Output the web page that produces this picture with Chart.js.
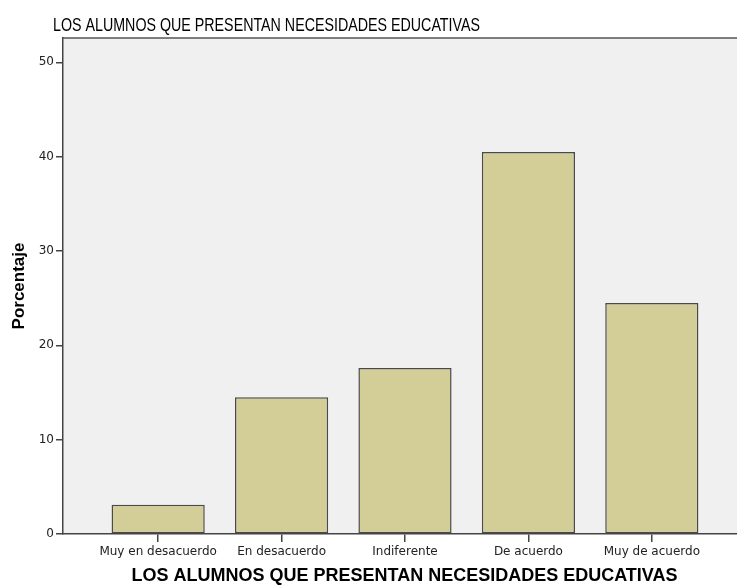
<!DOCTYPE html>
<html>
<head>
<meta charset="utf-8">
<script src="https://cdn.jsdelivr.net/npm/chart.js@4/dist/chart.umd.min.js"></script>
<style>
  html, body { margin: 0; padding: 0; background: #fff; overflow: hidden; }
  #wrap { width: 750px; height: 587px; }
</style>
</head>
<body>
<div id="wrap"><canvas id="grafico" width="750" height="587"></canvas></div>
<script>
// datos
const titulo = 'LOS ALUMNOS QUE PRESENTAN NECESIDADES EDUCATIVAS';
const categorias = ['Muy en desacuerdo', 'En desacuerdo', 'Indiferente', 'De acuerdo', 'Muy de acuerdo'];
const porcentajes = [3.1, 14.5, 17.6, 40.5, 24.5];
const ticksY = [0, 10, 20, 30, 40, 50];

const fondoPlot = {
    id: 'fondoPlot',
    beforeDraw(chart) {
        const { ctx, chartArea: a } = chart;
        ctx.save();
        ctx.fillStyle = '#f0f0f0';
        ctx.fillRect(a.left, a.top, a.right - a.left, a.bottom - a.top);
        ctx.restore();
    },
    afterDraw(chart) {
        const { ctx, chartArea: a } = chart;
        ctx.save();
        // borde superior del area
        ctx.strokeStyle = '#555';
        ctx.lineWidth = 1.5;
        ctx.beginPath();
        ctx.moveTo(a.left, a.top);
        ctx.lineTo(a.right, a.top);
        ctx.stroke();
        // titulo arriba a la izquierda
        ctx.fillStyle = '#000';
        ctx.font = "18px 'Liberation Sans Narrow', 'Liberation Sans', Arial, sans-serif";
        ctx.textBaseline = 'alphabetic';
        const w = ctx.measureText(titulo).width;
        const sx = Math.min(1, 427 / w);
        ctx.translate(53, 31);
        ctx.scale(sx, 1);
        ctx.fillText(titulo, 0, 0);
        ctx.restore();
    }
};

function createChart() {
    const ctx = document.getElementById('grafico').getContext('2d');
    new Chart(ctx, {
        type: 'bar',
        data: {
            datasets: [{
                data: porcentajes.map((v, i) => ({ x: i + 1, y: v })),
                backgroundColor: '#d3ce98',
                borderColor: '#4a4a4a',
                borderWidth: 1.5,
                borderSkipped: false,
                barPercentage: 0.755,
                categoryPercentage: 1
            }]
        },
        options: {
            responsive: false,
            animation: false,
            layout: { padding: { top: 38, right: 4, bottom: 0, left: 0 } },
            plugins: {
                legend: { display: false },
                tooltip: { enabled: false }
            },
            scales: {
                x: {
                    type: 'linear',
                    offset: false,
                    min: 0.229,
                    max: 5.763,
                    afterBuildTicks: s => { s.ticks = categorias.map((c, i) => ({ value: i + 1 })); },
                    afterFit: s => { s.height = 53; },
                    border: { display: true, color: '#444', width: 1.5 },
                    grid: { offset: false, drawOnChartArea: false, drawTicks: true, tickLength: 8, color: '#444', lineWidth: 1.5 },
                    ticks: {
                        autoSkip: false,
                        maxRotation: 0,
                        padding: 3,
                        color: '#222',
                        font: { family: "'DejaVu Sans', sans-serif", size: 12 },
                        callback: v => categorias[v - 1]
                    },
                    title: {
                        display: true,
                        text: titulo,
                        color: '#000',
                        font: { family: "'Liberation Sans', Arial, sans-serif", size: 18, weight: 'bold' },
                        padding: { top: 2, bottom: 0 }
                    }
                },
                y: {
                    min: 0,
                    max: 52.58,
                    afterBuildTicks: s => { s.ticks = ticksY.map(v => ({ value: v })); },
                    afterFit: s => { s.width = 63; },
                    border: { display: true, color: '#444', width: 1.5 },
                    grid: { drawOnChartArea: false, drawTicks: true, tickLength: 7, color: '#444', lineWidth: 1.5 },
                    ticks: {
                        padding: 2,
                        color: '#222',
                        font: { family: "'DejaVu Sans', sans-serif", size: 12 }
                    },
                    title: {
                        display: true,
                        text: 'Porcentaje',
                        color: '#000',
                        font: { family: "'Liberation Sans', Arial, sans-serif", size: 17, weight: 'bold' },
                        padding: { top: 9, bottom: 0 }
                    }
                }
            }
        },
        plugins: [fondoPlot]
    });
}

document.addEventListener('DOMContentLoaded', createChart);
</script>
</body>
</html>
